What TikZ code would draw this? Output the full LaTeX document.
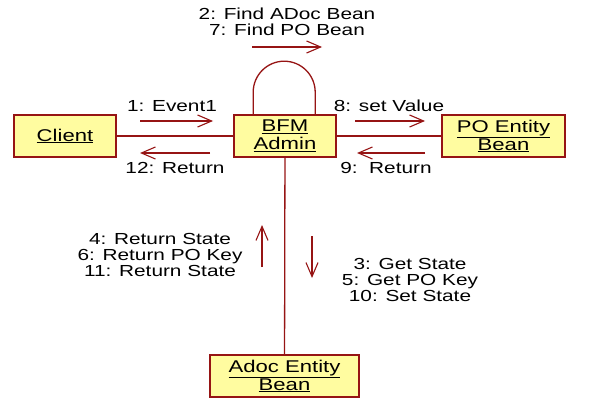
\documentclass[tikz,border=0pt]{standalone}
\usepackage{xcolor}
\usepackage{fontspec}
\setmainfont{Liberation Sans}[FakeStretch=1.3]
\usepackage{tikz}
\usetikzlibrary{
    arrows.meta,
    positioning
}

\definecolor{linkred}{RGB}{150,20,20}
\definecolor{beanfill}{RGB}{255,252,160}

\begin{document}
\begin{tikzpicture}[
    x=1pt, y=1pt,
    object/.style={
        draw=linkred,
        line width=1.6pt,
        fill=beanfill,
        minimum height=42pt,
        align=center,
        inner sep=0pt,
        font=\fontsize{17}{18}\selectfont
    },
    link/.style={
        draw=linkred,
        line width=1.3pt
    },
    msg/.style={
        draw=linkred,
        line width=1.3pt,
        -{Straight Barb[length=14pt,width=12pt,line width=1.1pt]}
    },
    msglabel/.style={
        align=center,
        inner sep=0pt,
        font=\fontsize{16}{16}\selectfont
    }
]

\useasboundingbox (0,0) rectangle (590,400);

\node[object, minimum width=102pt] (client) at (65,264)
{\underline{Client}};

\node[object, minimum width=102pt] (bfm) at (285,264)
{\underline{BFM}\\\underline{Admin}};

\node[object, minimum width=123pt] (po) at (503.5,264)
{\underline{PO Entity}\\\underline{Bean}};

\node[object, minimum width=149pt] (adoc) at (284.5,24)
{\underline{Adoc Entity}\\\underline{Bean}};

% links between objects
\draw[link] (client) -- (bfm);
\draw[link] (bfm) -- (po);
\draw[link] (bfm) -- (adoc);

% self link on BFM Admin
\draw[link] ([xshift=20pt]bfm.north west) -- ++(0,22)
    arc[start angle=180, end angle=0, radius=31] -- ++(0,-22);

% message ends
\coordinate (m2a) at (252,353);
\coordinate (m2b) at (322,353);
\coordinate (m1a) at (140,279);
\coordinate (m1b) at (213,279);
\coordinate (m12a) at (210,247);
\coordinate (m12b) at (140,247);
\coordinate (m8a) at (355,279);
\coordinate (m8b) at (425,279);
\coordinate (m9a) at (425,247);
\coordinate (m9b) at (357,247);
\coordinate (upa) at (262,133);
\coordinate (upb) at (262,175);
\coordinate (downa) at (312,164);
\coordinate (downb) at (312,122);

\draw[msg] (m2a) -- (m2b);
\draw[msg] (m1a) -- (m1b);
\draw[msg] (m12a) -- (m12b);
\draw[msg] (m8a) -- (m8b);
\draw[msg] (m9a) -- (m9b);
\draw[msg] (upa) -- (upb);
\draw[msg] (downa) -- (downb);

% message labels
\node[msglabel] (l2) at (287,378) {2: Find ADoc Bean\\7: Find PO Bean};
\node[msglabel] (l1) at (172,294) {1: Event1};
\node[msglabel] (l12) at (175,232) {12: Return};
\node[msglabel] (l8) at (389,294) {8: set Value};
\node[msglabel] (l9) at (386,232) {9:\ \ Return};
\node[msglabel] (lup) at (160,145)
{4: Return State\\6: Return PO Key\\11: Return State};
\node[msglabel] (ldown) at (410,120)
{3: Get State\\5: Get PO Key\\10: Set State};

\end{tikzpicture}
\end{document}
